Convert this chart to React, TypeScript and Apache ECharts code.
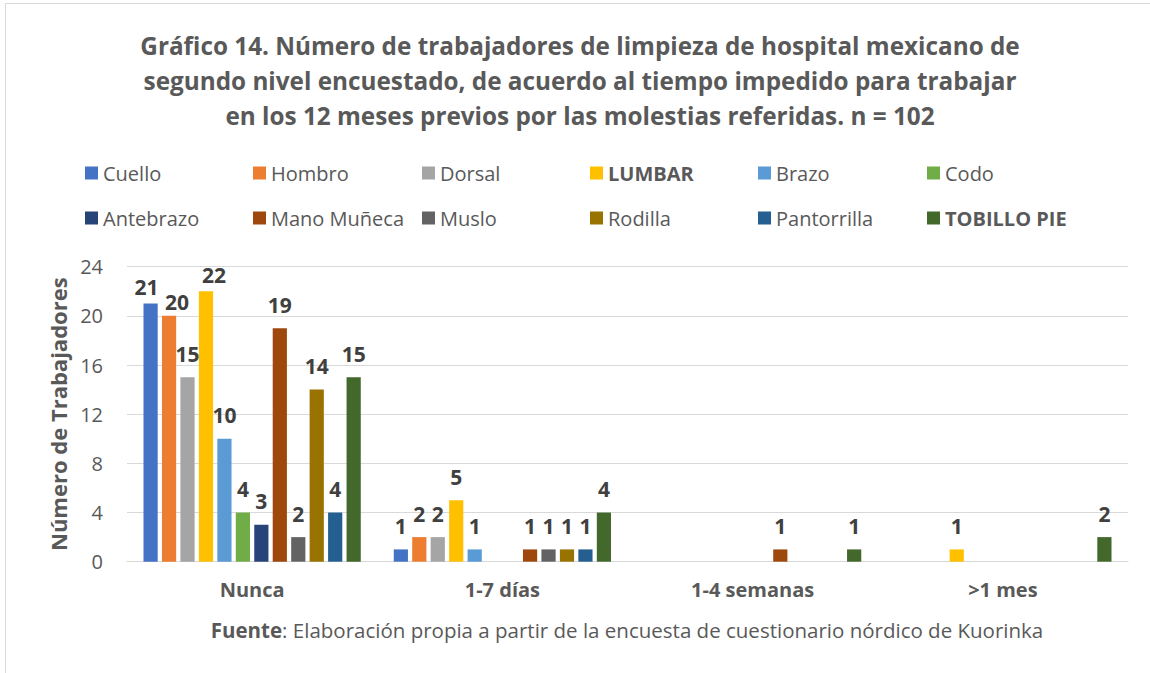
import React, { useEffect, useRef } from "react";
import * as echarts from "echarts";

const categories = ["Nunca", "1-7 días", "1-4 semanas", ">1 mes"];
const seriesNames = [
  "Cuello", "Hombro", "Dorsal", "LUMBAR", "Brazo", "Codo",
  "Antebrazo", "Mano Muñeca", "Muslo", "Rodilla", "Pantorrilla", "TOBILLO PIE",
];
const cuello = [21, 1, 0, 0];
const hombro = [20, 2, 0, 0];
const dorsal = [15, 2, 0, 0];
const lumbar = [22, 5, 0, 1];
const brazo = [10, 1, 0, 0];
const codo = [4, 0, 0, 0];
const antebrazo = [3, 0, 0, 0];
const manoMuneca = [19, 1, 1, 0];
const muslo = [2, 1, 0, 0];
const rodilla = [14, 1, 0, 0];
const pantorrilla = [4, 1, 0, 0];
const tobilloPie = [15, 4, 1, 2];
const seriesValues = [cuello, hombro, dorsal, lumbar, brazo, codo, antebrazo, manoMuneca, muslo, rodilla, pantorrilla, tobilloPie];
const yTicks = [0, 4, 8, 12, 16, 20, 24];

const colors = [
  "#4472C4", "#ED7D31", "#A5A5A5", "#FFC000", "#5B9BD5", "#70AD47",
  "#264478", "#9E480E", "#636363", "#997300", "#255E91", "#43682B",
];
const boldLegend = ["LUMBAR", "TOBILLO PIE"];
// label nudges (style only): key "series-category" -> [dx, dy] px
const labelNudge: Record<string, number[]> = { "0-0": [-4, 7], "1-0": [8, 10], "3-0": [8, 7] };

const FONT = "'Open Sans', 'Noto Sans', sans-serif";
const GREY = "#595959";

export default function App() {
  const ref = useRef<HTMLDivElement>(null);
  useEffect(() => {
    const chart = echarts.init(ref.current!, null, { renderer: "svg" });
    const legendX = [85, 253, 422, 590, 758, 927];
    const legendY = [174, 219];
    const legends = seriesNames.map((name, i) => ({
      data: [name],
      left: legendX[i % 6],
      top: legendY[Math.floor(i / 6)] - 11,
      padding: 0,
      itemWidth: 13,
      itemHeight: 13,
      itemGap: 0,
      icon: "rect",
      selectedMode: false,
      textStyle: {
        fontFamily: FONT,
        fontSize: 20,
        color: GREY,
        fontWeight: boldLegend.includes(name) ? "bold" : "normal",
      },
    }));
    const series = seriesNames.map((name, i) => ({
      name,
      type: "bar",
      barWidth: 14.2,
      barGap: "30%",
      itemStyle: { color: colors[i] },
      data: seriesValues[i].map((v, j) => {
        const n = labelNudge[`${i}-${j}`];
        return n ? { value: v, label: { offset: n } } : v;
      }),
      label: {
        show: true,
        position: "top",
        distance: 13,
        fontFamily: FONT,
        fontSize: 21,
        fontWeight: "bold",
        color: "#404040",
        formatter: (p: any) => (p.value ? String(p.value) : ""),
      },
    }));
    chart.setOption({
      animation: false,
      backgroundColor: "#ffffff",
      textStyle: { fontFamily: FONT },
      title: {
        text: "Gráfico 14. Número de trabajadores de limpieza de hospital mexicano de\nsegundo nivel encuestado, de acuerdo al tiempo impedido para trabajar\nen los 12 meses previos por las molestias referidas. n = 102",
        left: 580,
        top: 28,
        padding: 0,
        textAlign: "center",
        textStyle: {
          fontFamily: FONT,
          fontSize: 24.3,
          fontWeight: "bold",
          color: GREY,
          lineHeight: 35,
        },
      },
      legend: legends,
      grid: { left: 127, right: 22, top: 266.7, bottom: 111.3, containLabel: false },
      xAxis: {
        type: "category",
        data: categories,
        axisLine: { show: true, lineStyle: { color: "#d9d9d9", width: 1 } },
        axisTick: { show: false },
        axisLabel: {
          margin: 18,
          fontFamily: FONT,
          fontSize: 20,
          fontWeight: "bold",
          color: GREY,
        },
      },
      yAxis: {
        type: "value",
        min: yTicks[0],
        max: yTicks[yTicks.length - 1],
        interval: 4,
        name: "Número de Trabajadores",
        nameLocation: "middle",
        nameGap: 56,
        nameTextStyle: { fontFamily: FONT, fontSize: 22, fontWeight: "bold", color: GREY },
        axisLine: { show: false },
        axisTick: { show: false },
        axisLabel: { margin: 24, fontFamily: FONT, fontSize: 20, color: GREY },
        splitLine: { lineStyle: { color: "#d9d9d9", width: 1 } },
      },
      series,
      graphic: [
        { type: "line", shape: { x1: 5.5, y1: 3, x2: 5.5, y2: 673 }, style: { stroke: "#d9d9d9", lineWidth: 1 }, silent: true },
        { type: "line", shape: { x1: 5, y1: 3.5, x2: 1150, y2: 3.5 }, style: { stroke: "#d9d9d9", lineWidth: 1 }, silent: true },
        {
          type: "text",
          x: 627,
          y: 630,
          style: {
            text: "{b|Fuente}: Elaboración propia a partir de la encuesta de cuestionario nórdico de Kuorinka",
            align: "center",
            verticalAlign: "middle",
            fontFamily: FONT,
            fontSize: 20.5,
            fill: GREY,
            rich: { b: { fontFamily: FONT, fontSize: 20.5, fontWeight: "bold", fill: GREY } },
          },
        },
      ],
    });
    return () => chart.dispose();
  }, []);
  return (
    <div
      ref={ref}
      style={{ position: "absolute", left: 0, top: 0, width: 1150, height: 673, background: "#fff" }}
    />
  );
}
